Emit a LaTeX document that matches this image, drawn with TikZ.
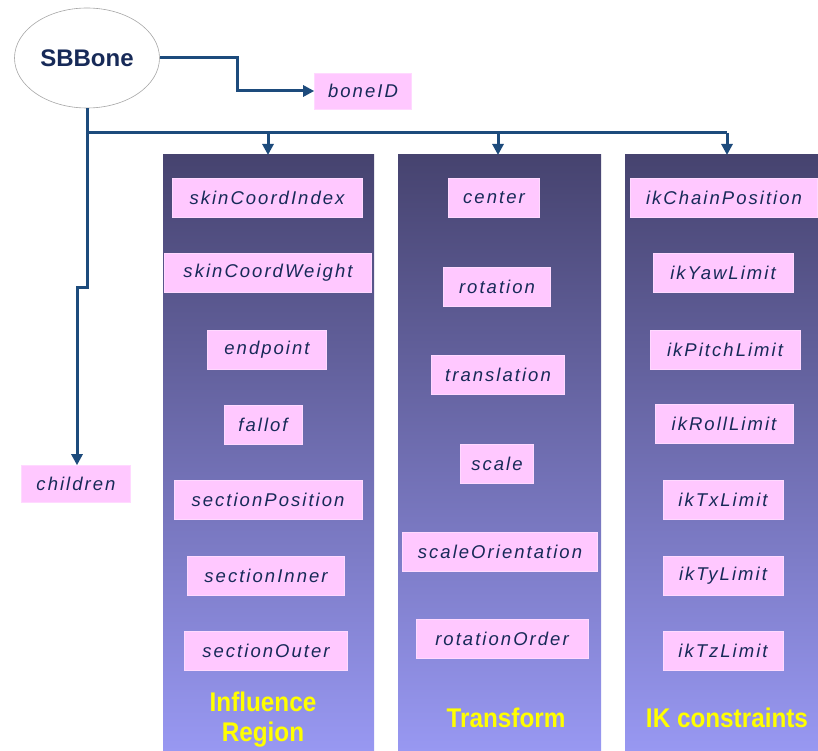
\documentclass[tikz,border=0pt]{standalone}
\usepackage{fontspec}
\setmainfont{Liberation Sans}
\newfontfamily\boxfont[LetterSpace=11]{Liberation Sans}
\newfontfamily\labfont[FakeStretch=0.9]{Liberation Sans Bold}
\usetikzlibrary{shapes.geometric,arrows.meta}
\definecolor{linec}{HTML}{1D4B7C}
\definecolor{txtc}{HTML}{172A58}
\definecolor{pinkc}{HTML}{FFC8FF}
\definecolor{coltop}{HTML}{46436F}
\definecolor{colbot}{HTML}{9898F2}
\definecolor{yel}{HTML}{FFFF00}
\tikzset{
  pbox/.style={fill=pinkc, draw=pinkc!70!white, line width=0.6pt, minimum height=39pt, inner sep=0pt,
    font=\boxfont\itshape\fontsize{18.5}{20}\selectfont, text=txtc},
  column/.style={top color=coltop, bottom color=colbot, draw=none},
  conn/.style={draw=linec, line width=3pt},
  arr/.style={conn, -{Triangle[length=11pt,width=11pt]}},
  lab/.style={font=\labfont\fontsize{27}{30}\selectfont, text=yel, align=center}
}
\begin{document}
\begin{tikzpicture}[x=1pt,y=-1pt]
\useasboundingbox (0,0) rectangle (818,751);
% columns
\shade[column] (163,155) rectangle (374,751);
\shade[column] (398,155) rectangle (601,751);
\shade[column] (625,155) rectangle (818,751);
\coordinate (c1) at (268,155);
\coordinate (c2) at (498,155);
\coordinate (c3) at (727,155);
% root
\node[ellipse, draw=gray!70, line width=0.6pt, fill=white, minimum width=145pt, minimum height=100pt,
  font=\bfseries\fontsize{24}{26}\selectfont, text=txtc] (sb) at (87,58) {SBBone};
\node[pbox, minimum width=97pt, minimum height=36pt] (boneid) at (363,91) {boneID};
\node[pbox, minimum width=109pt, minimum height=37pt] (children) at (76,484) {children};
% column 1
\node[pbox, minimum width=190pt] (a1) at (267,198) {skinCoordIndex};
\node[pbox, minimum width=207pt] (a2) at (268,273) {skinCoordWeight};
\node[pbox, minimum width=119pt] (a3) at (267,350) {endpoint};
\node[pbox, minimum width=78pt] (a4) at (263,425) {fallof};
\node[pbox, minimum width=188pt] (a5) at (268,500) {sectionPosition};
\node[pbox, minimum width=157pt] (a6) at (266,576) {sectionInner};
\node[pbox, minimum width=163pt] (a7) at (266,651) {sectionOuter};
\node[lab] (l1) at (263,720) {Influence\\Region};
% column 2
\node[pbox, minimum width=91pt] (b1) at (494,198) {center};
\node[pbox, minimum width=107pt] (b2) at (497,287) {rotation};
\node[pbox, minimum width=133pt] (b3) at (498,375) {translation};
\node[pbox, minimum width=73pt] (b4) at (497,464) {scale};
\node[pbox, minimum width=195pt] (b5) at (500,552) {scaleOrientation};
\node[pbox, minimum width=172pt] (b6) at (502,639) {rotationOrder};
\node[lab] (l2) at (506,718) {Transform};
% column 3
\node[pbox, minimum width=187pt] (d1) at (724,198) {ikChainPosition};
\node[pbox, minimum width=140pt] (d2) at (723,273) {ikYawLimit};
\node[pbox, minimum width=150pt] (d3) at (725,350) {ikPitchLimit};
\node[pbox, minimum width=138pt] (d4) at (724,424) {ikRollLimit};
\node[pbox, minimum width=120pt] (d5) at (723,500) {ikTxLimit};
\node[pbox, minimum width=120pt] (d6) at (723,576) {ikTyLimit};
\node[pbox, minimum width=120pt] (d7) at (723,651) {ikTzLimit};
\node[lab] (l3) at (727,718) {IK constraints};
% connectors
\coordinate (bend) at (237,58);
\draw[arr] (sb.east) -- (bend) |- (boneid.west);
\coordinate (bus0) at (87,133);
\coordinate (bus1) at (268,133);
\coordinate (bus2) at (498,133);
\coordinate (bus3) at (727,133);
\coordinate (jog1) at (87,287);
\coordinate (jog2) at (77,287);
\draw[conn] (sb.south) -- (bus0) -- (bus3);
\draw[arr] (bus1) -- (c1);
\draw[arr] (bus2) -- (c2);
\draw[arr] (bus3) -- (c3);
\draw[arr] (bus0) -- (jog1) -- (jog2) -- (children.north -| jog2);
\end{tikzpicture}
\end{document}
